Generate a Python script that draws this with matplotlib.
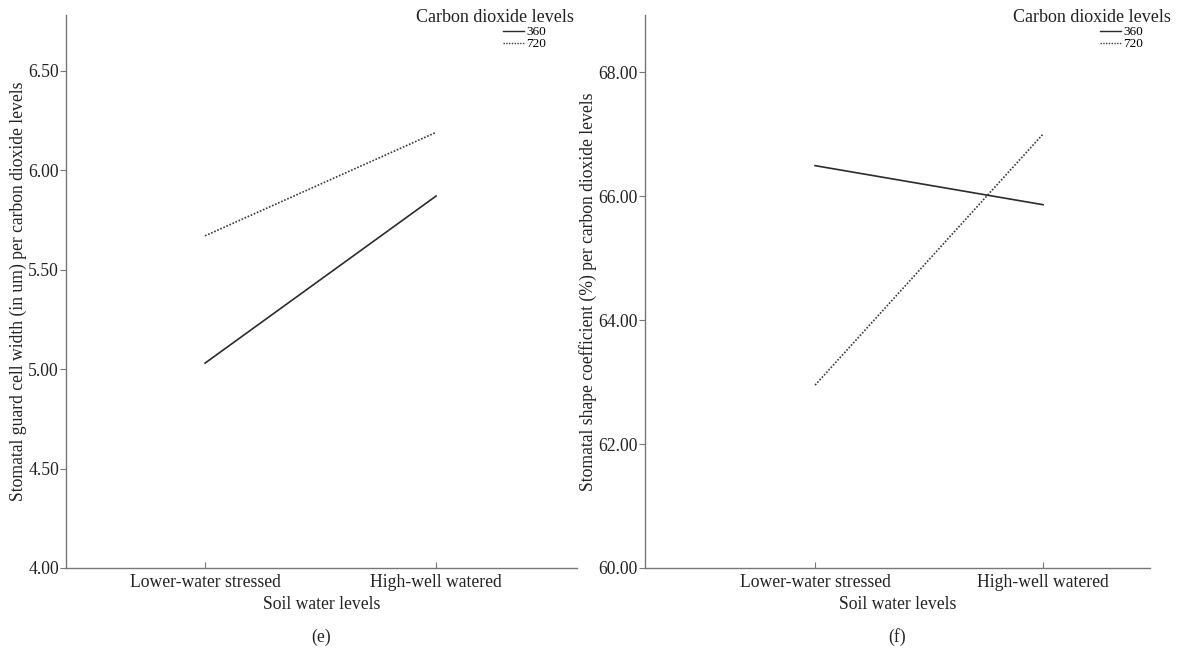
import matplotlib
matplotlib.use('Agg')
import matplotlib.pyplot as plt
from matplotlib.lines import Line2D

plt.rcParams['font.family'] = ['Liberation Serif', 'DejaVu Serif']

# categories on the x axis
soil = ['Lower-water stressed', 'High-well watered']
co2_levels = ['360', '720']

# panel (e): stomatal guard cell width
width_360 = [5.03, 5.87]
width_720 = [5.67, 6.19]
# panel (f): stomatal shape coefficient
shape_360 = [66.49, 65.86]
shape_720 = [62.95, 67.00]

W, H = 1187, 650
fig = plt.figure(figsize=(W / 100, H / 100), dpi=100)
FS = 12.7


def panel(rect, y360, y720, yticks, ylim, xlim, ylabel, tag, leg_x):
    ax = fig.add_axes(rect)
    x = range(len(soil))
    ax.plot(x, y360, color='#2b2b2b', lw=1.2, ls='-')
    ax.plot(x, y720, color='#3a3a3a', lw=1.2, ls=(0, (1, 1)))
    ax.set_xlim(*xlim)
    ax.set_ylim(*ylim)
    ax.set_xticks(list(x))
    ax.set_xticklabels(soil, fontsize=FS, color='#222222')
    ax.set_yticks(yticks)
    ax.set_yticklabels(['%.2f' % v for v in yticks], fontsize=FS, color='#222222')
    for s in ['top', 'right']:
        ax.spines[s].set_visible(False)
    for s in ['left', 'bottom']:
        ax.spines[s].set_color('#777777')
        ax.spines[s].set_linewidth(1.0)
    ax.tick_params(axis='y', direction='out', length=4, color='#777777', pad=1)
    ax.tick_params(axis='x', direction='in', length=4, color='#777777', pad=4)
    ax.set_ylabel(ylabel, fontsize=FS, color='#222222', labelpad=1)
    ax.set_xlabel('Soil water levels', fontsize=FS, color='#222222', labelpad=4)
    cx = rect[0] + rect[2] * 0.5
    fig.text(cx, 1 - 637 / H, tag, fontsize=FS, ha='center', va='center', color='#222222')
    # legend
    fig.text(leg_x, 1 - 17 / H, 'Carbon dioxide levels', fontsize=13,
             ha='right', va='center', color='#222222')
    handles = [Line2D([], [], color='#2b2b2b', lw=1.0, ls='-'),
               Line2D([], [], color='#3a3a3a', lw=1.0, ls=(0, (1, 1)))]
    ax.legend(handles, co2_levels, loc='upper right', frameon=False, fontsize=9.5,
              bbox_to_anchor=(leg_x - 28 / W, 1 - 26 / H), bbox_transform=fig.transFigure,
              labelspacing=0.0, handlelength=1.6, handletextpad=0.15,
              borderpad=0, borderaxespad=0)
    return ax


bottom = 1 - 568 / H
height = (568 - 15) / H
panel([66 / W, bottom, 511 / W, height], width_360, width_720,
      [4.0, 4.5, 5.0, 5.5, 6.0, 6.5], (4.0, 6.78), (-0.602, 1.610),
      'Stomatal guard cell width (in um) per carbon dioxide levels', '(e)', 574 / W)
panel([645 / W, bottom, 505 / W, height], shape_360, shape_720,
      [60.0, 62.0, 64.0, 66.0, 68.0], (60.0, 68.92), (-0.746, 1.469),
      'Stomatal shape coefficient (%) per carbon dioxide levels', '(f)', 1171 / W)

fig.savefig('out.png', dpi=100)
